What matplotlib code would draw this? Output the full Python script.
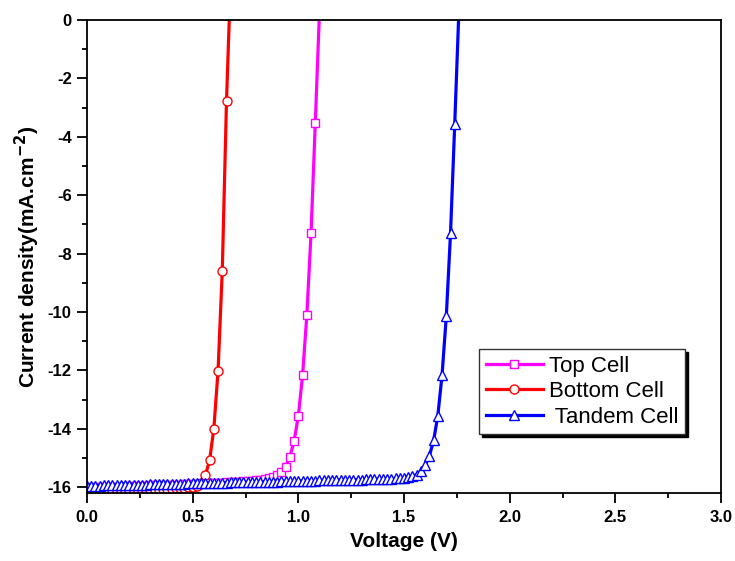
import matplotlib
matplotlib.use("Agg")
import matplotlib.pyplot as plt
import numpy as np

# voltage grid (V), 20 mV steps
v_top = np.round(np.arange(0, 1.101, 0.02), 2)
v_bottom = np.round(np.arange(0, 0.681, 0.02), 2)
v_tandem = np.round(np.arange(0, 1.761, 0.02), 2)

# current density (mA/cm2)
j_top = [-16.02, -16.01, -16.01, -16.00, -16.00, -15.99, -15.99, -15.98, -15.98, -15.97,
         -15.97, -15.96, -15.96, -15.95, -15.95, -15.94, -15.94, -15.93, -15.93, -15.92,
         -15.92, -15.91, -15.91, -15.90, -15.90, -15.89, -15.89, -15.88, -15.87, -15.87,
         -15.86, -15.85, -15.85, -15.84, -15.83, -15.82, -15.81, -15.80, -15.79, -15.78,
         -15.77, -15.75, -15.73, -15.70, -15.66, -15.58, -15.47, -15.30, -14.95, -14.42,
         -13.55, -12.16, -10.12, -7.30, -3.54, 0.30]
j_bottom = [-16.22, -16.21, -16.20, -16.20, -16.19, -16.18, -16.17, -16.17, -16.16, -16.15,
            -16.14, -16.13, -16.12, -16.12, -16.11, -16.10, -16.09, -16.08, -16.07, -16.06,
            -16.05, -16.04, -16.03, -16.02, -16.00, -15.98, -15.95, -15.85, -15.60, -15.08,
            -14.00, -12.02, -8.58, -2.77, 1.50]
j_tandem = [-15.96, -15.96, -15.95, -15.95, -15.94, -15.94, -15.93, -15.93, -15.93, -15.92,
            -15.92, -15.92, -15.91, -15.91, -15.91, -15.90, -15.90, -15.90, -15.89, -15.89,
            -15.89, -15.88, -15.88, -15.88, -15.87, -15.87, -15.87, -15.86, -15.86, -15.86,
            -15.86, -15.85, -15.85, -15.85, -15.84, -15.84, -15.84, -15.83, -15.83, -15.83,
            -15.82, -15.82, -15.82, -15.81, -15.81, -15.81, -15.80, -15.80, -15.80, -15.79,
            -15.79, -15.79, -15.78, -15.78, -15.78, -15.77, -15.77, -15.77, -15.76, -15.76,
            -15.76, -15.75, -15.75, -15.75, -15.74, -15.74, -15.73, -15.73, -15.73, -15.72,
            -15.72, -15.71, -15.71, -15.70, -15.69, -15.68, -15.66, -15.63, -15.57, -15.45,
            -15.25, -14.93, -14.40, -13.55, -12.15, -10.15, -7.30, -3.55, 0.40]

plt.rcParams["font.family"] = ["Liberation Sans", "DejaVu Sans"]
plt.rcParams["axes.unicode_minus"] = False

fig = plt.figure(figsize=(7.35, 5.61), dpi=100)
ax = fig.add_axes([0.1184, 0.1212, 0.8626, 0.8431])

ax.plot(v_top, j_top, color="#FF00FF", lw=2.3, marker="s", ms=5.8,
        mfc="white", mec="#FF00FF", mew=1.0, label="Top Cell")
ax.plot(v_bottom, j_bottom, color="#FF0000", lw=2.3, marker="o", ms=6.5,
        mfc="white", mec="#FF0000", mew=1.0, label="Bottom Cell")
ax.plot(v_tandem, j_tandem, color="#0000FF", lw=2.3, marker="^", ms=7.0,
        mfc="white", mec="#0000FF", mew=1.0, label=" Tandem Cell")

ax.set_xlim(0, 3.0)
ax.set_ylim(-16.2, 0)
ax.set_xticks(np.arange(0, 3.01, 0.5))
ax.set_xticks(np.arange(0, 3.01, 0.25), minor=True)
ax.set_yticks(np.arange(-16, 0.1, 2))
ax.set_yticks(np.arange(-16, 0.1, 1), minor=True)
ax.xaxis.set_major_formatter(matplotlib.ticker.FormatStrFormatter("%.1f"))

ax.tick_params(which="major", direction="out", length=7, width=1.3,
               labelsize=12, top=False, right=False)
ax.tick_params(which="minor", direction="out", length=3.8, width=1.3,
               top=False, right=False)
ax.tick_params(axis="x", pad=5)
ax.tick_params(axis="y", pad=4)
for lab in ax.get_xticklabels() + ax.get_yticklabels():
    lab.set_fontweight("bold")
for sp in ax.spines.values():
    sp.set_linewidth(1.3)

ax.set_xlabel("Voltage (V)", fontsize=15, fontweight="bold", labelpad=5)
ax.set_ylabel("Current density(mA.cm$^{\\mathbf{-2}}$)", fontsize=15,
              fontweight="bold", labelpad=4)

leg = ax.legend(loc="upper left", bbox_to_anchor=(0.618, 0.3044),
                fontsize=16, frameon=True, fancybox=False,
                shadow={"color": "black", "alpha": 1.0},
                edgecolor="#333333", handlelength=2.6, handletextpad=0.25,
                labelspacing=0.2, borderpad=0.3, borderaxespad=0)
leg.get_frame().set_linewidth(1.0)

fig.savefig("out.png", dpi=100)
